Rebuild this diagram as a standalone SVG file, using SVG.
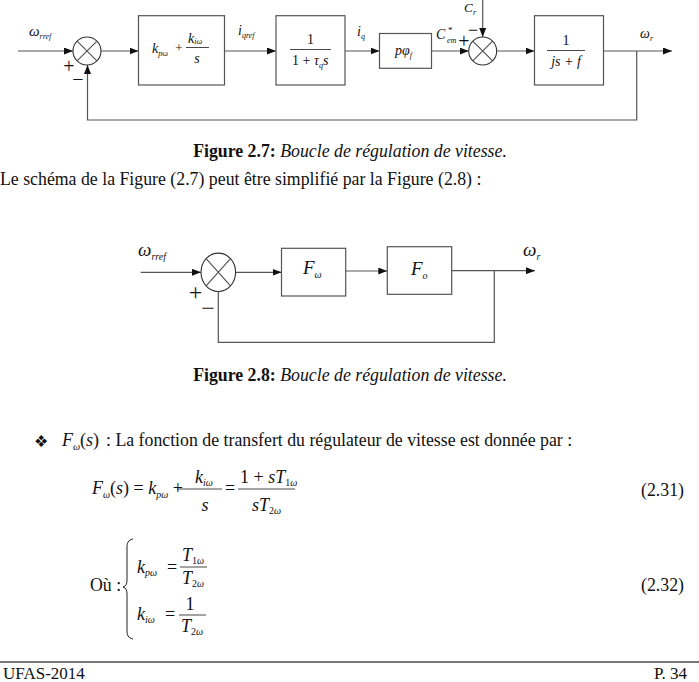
<svg xmlns="http://www.w3.org/2000/svg" width="699" height="682" viewBox="0 0 699 682">
<defs>
<marker id="ah" markerWidth="9" markerHeight="7" refX="9" refY="3.5" orient="auto" markerUnits="userSpaceOnUse"><path d="M0,0 L9,3.5 L0,7 z" fill="#111"/></marker>
</defs>
<style>
text{font-family:"Liberation Serif","Times New Roman",serif;fill:#111}
.it{font-style:italic}
.b{font-weight:bold}
.box{fill:#fff;stroke:#555;stroke-width:1.2}
.ln{fill:none;stroke:#555;stroke-width:1.2}
.ar{fill:none;stroke:#555;stroke-width:1.2;marker-end:url(#ah)}
.bar{stroke:#333;stroke-width:0.9}
.sum{fill:#fff;stroke:#333;stroke-width:1.1}
.body{font-size:17.8px}
</style>
<rect width="699" height="682" fill="#fff"/>

<!-- Figure 2.7 -->
<g id="connectors1">
<path class="ar" d="M18,51 H73"/>
<path class="ar" d="M101,51 H138.5"/>
<path class="ar" d="M224.5,51 H276"/>
<path class="ar" d="M345,51 H379.5"/>
<path class="ar" d="M431.5,51 H468.7"/>
<path class="ar" d="M482.7,0 V37"/>
<path class="ar" d="M496.7,51 H534.5"/>
<path class="ar" d="M603.5,51 H672"/>
<path class="ar" d="M636.7,51 V120 H87.5 V65"/>
</g>
<g id="sum1">
<circle class="sum" cx="87" cy="51" r="14"/>
<path class="ln" d="M77.1,41.1 L96.9,60.9 M77.1,60.9 L96.9,41.1"/>
</g>
<g id="sum2">
<circle class="sum" cx="482.7" cy="51" r="14"/>
<path class="ln" d="M472.8,41.1 L492.6,60.9 M472.8,60.9 L492.6,41.1"/>
</g>
<g id="box-pi">
<rect class="box" x="138.5" y="15.7" width="86" height="69.3"/>
<text class="it" x="152" y="53" font-size="14">k<tspan font-size="8" dy="3">pω</tspan></text>
<text x="179" y="52" font-size="13" text-anchor="middle">+</text>
<text class="it" x="188" y="43" font-size="14">k<tspan font-size="8" dy="1">iω</tspan></text>
<line class="bar" x1="186" y1="47.5" x2="209" y2="47.5"/>
<text class="it" x="197" y="63" font-size="14" text-anchor="middle">s</text>
</g>
<g id="box-current">
<rect class="box" x="276" y="15.7" width="69" height="69.3"/>
<text x="310.5" y="44" font-size="14" text-anchor="middle">1</text>
<line class="bar" x1="290" y1="49.5" x2="331" y2="49.5"/>
<text x="292" y="65" font-size="14">1 + <tspan class="it">τ</tspan><tspan class="it" font-size="8" dy="3">q</tspan><tspan class="it" dy="-3">s</tspan></text>
</g>
<g id="box-torque">
<rect class="box" x="379.5" y="33.5" width="52" height="34.8"/>
<text class="it" x="395" y="55" font-size="14">pφ<tspan font-size="8" dy="3">f</tspan></text>
</g>
<g id="box-mech">
<rect class="box" x="534.5" y="15.7" width="69" height="69.3"/>
<text x="566" y="45" font-size="14" text-anchor="middle">1</text>
<line class="bar" x1="547" y1="50.5" x2="585" y2="50.5"/>
<text class="it" x="566" y="66" font-size="14" text-anchor="middle">js + f</text>
</g>
<g id="labels1">
<text class="it" x="29" y="36" font-size="15">ω<tspan font-size="8" dy="3">rref</tspan></text>
<text class="it" x="238" y="35" font-size="14">i<tspan font-size="8" dy="3">qref</tspan></text>
<text class="it" x="357" y="36" font-size="14">i<tspan font-size="8" dy="3">q</tspan></text>
<text class="it" x="436" y="39" font-size="14">C</text>
<text x="448" y="33" font-size="9">*</text>
<text class="it" x="447" y="43" font-size="8">em</text>
<text class="it" x="464" y="12" font-size="13">C</text>
<text class="it" x="473" y="15" font-size="8">r</text>
<text class="it" x="640" y="38" font-size="14">ω<tspan font-size="8" dy="3">r</tspan></text>
<text x="69" y="73" font-size="20" text-anchor="middle">+</text>
<text x="78" y="86" font-size="20" text-anchor="middle">−</text>
<text x="464" y="48" font-size="20" text-anchor="middle">+</text>
<text x="473" y="36" font-size="18" text-anchor="middle">−</text>
</g>

<text class="body" x="350" y="157" text-anchor="middle"><tspan class="b">Figure 2.7:</tspan><tspan class="it"> Boucle de régulation de vitesse.</tspan></text>
<text class="body" x="0" y="185">Le schéma de la Figure (2.7) peut être simplifié par la Figure (2.8) :</text>

<!-- Figure 2.8 -->
<g id="connectors2">
<path class="ar" d="M140.7,272.3 H201"/>
<path class="ar" d="M235.6,272.3 H281.5"/>
<path class="ar" d="M345.7,271 H387.3"/>
<path class="ar" d="M451.7,270.7 H535"/>
<path class="ln" d="M494.3,270.7 V342.3 H218.3 V291.5"/>
</g>
<g id="sum3">
<ellipse class="sum" cx="218.3" cy="272.3" rx="17.3" ry="19.2"/>
<path class="ln" d="M206.1,258.7 L230.5,285.9 M206.1,285.9 L230.5,258.7"/>
</g>
<g id="box-Fw">
<rect class="box" x="281.5" y="248.3" width="64.2" height="47.7"/>
<text class="it" x="303" y="274" font-size="19">F<tspan font-size="10" dy="4">ω</tspan></text>
</g>
<g id="box-Fo">
<rect class="box" x="387.3" y="246.7" width="64.4" height="47.6"/>
<text class="it" x="411" y="275" font-size="19">F<tspan font-size="10" dy="4">o</tspan></text>
</g>
<g id="labels2">
<text class="it" x="138" y="256" font-size="19">ω<tspan font-size="10" dy="4">rref</tspan></text>
<text class="it" x="523" y="256" font-size="19">ω<tspan font-size="10" dy="4">r</tspan></text>
<text x="195.5" y="300" font-size="24" text-anchor="middle">+</text>
<text x="208" y="316" font-size="24" text-anchor="middle">−</text>
</g>
<text class="body" x="350" y="381" text-anchor="middle"><tspan class="b">Figure 2.8:</tspan><tspan class="it"> Boucle de régulation de vitesse.</tspan></text>

<!-- Text and equations -->
<text x="34" y="447" font-size="16" font-family="DejaVu Sans">❖</text>
<text class="it" x="62" y="446" font-size="18">F<tspan font-size="10" dy="4">ω</tspan><tspan font-style="normal" dy="-4">(</tspan>s<tspan font-style="normal">)</tspan></text>
<text class="body" x="106" y="446">: La fonction de transfert du régulateur de vitesse est donnée par :</text>

<g id="eq231">
<text class="it" x="92" y="494" font-size="18">F<tspan font-size="10" dy="4">ω</tspan><tspan font-style="normal" dy="-4">(</tspan>s<tspan font-style="normal">) = </tspan>k<tspan font-size="10" dy="4">pω</tspan><tspan font-style="normal" dy="-4"> +</tspan></text>
<text class="it" x="195" y="483" font-size="18">k<tspan font-size="10" dy="3">iω</tspan></text>
<line class="bar" x1="177" y1="489" x2="222" y2="489"/>
<text class="it" x="205" y="511" font-size="18" text-anchor="middle">s</text>
<text x="225" y="494" font-size="18">=</text>
<text x="240" y="483" font-size="18">1 + <tspan class="it">sT</tspan><tspan font-size="10" dy="3">1</tspan><tspan class="it" font-size="10">ω</tspan></text>
<line class="bar" x1="238" y1="489" x2="295" y2="489"/>
<text class="it" x="252" y="511" font-size="18">sT<tspan font-style="normal" font-size="10" dy="3">2</tspan><tspan font-size="10">ω</tspan></text>
<text class="body" x="684" y="496" text-anchor="end">(2.31)</text>
</g>

<g id="eq232">
<text class="body" x="90" y="591">Où :</text>
<path d="M133,539 C128,540 127,543 127,548 V580 C127,584 126,586 123,587 C126,588 127,590 127,594 V630 C127,635 128,638 133,639" fill="none" stroke="#222" stroke-width="1"/>
<text class="it" x="137" y="573" font-size="18">k<tspan font-size="10" dy="3">pω</tspan></text>
<text x="167" y="573" font-size="18">=</text>
<text class="it" x="182" y="561" font-size="18">T<tspan font-style="normal" font-size="10" dy="3">1</tspan><tspan font-size="10">ω</tspan></text>
<line class="bar" x1="180" y1="567" x2="207" y2="567"/>
<text class="it" x="182" y="584" font-size="18">T<tspan font-style="normal" font-size="10" dy="3">2</tspan><tspan font-size="10">ω</tspan></text>
<text class="it" x="137" y="620" font-size="18">k<tspan font-size="10" dy="3">iω</tspan></text>
<text x="165" y="620" font-size="18">=</text>
<text x="190" y="610" font-size="18" text-anchor="middle">1</text>
<line class="bar" x1="179" y1="615" x2="206" y2="615"/>
<text class="it" x="181" y="632" font-size="18">T<tspan font-style="normal" font-size="10" dy="3">2</tspan><tspan font-size="10">ω</tspan></text>
<text class="body" x="684" y="591" text-anchor="end">(2.32)</text>
</g>

<g id="footer">
<line x1="0" y1="662" x2="699" y2="662" stroke="#777" stroke-width="2"/>
<text x="3" y="679" font-size="17">UFAS-2014</text>
<text x="687" y="679" font-size="17" text-anchor="end">P. 34</text>
</g>
</svg>
